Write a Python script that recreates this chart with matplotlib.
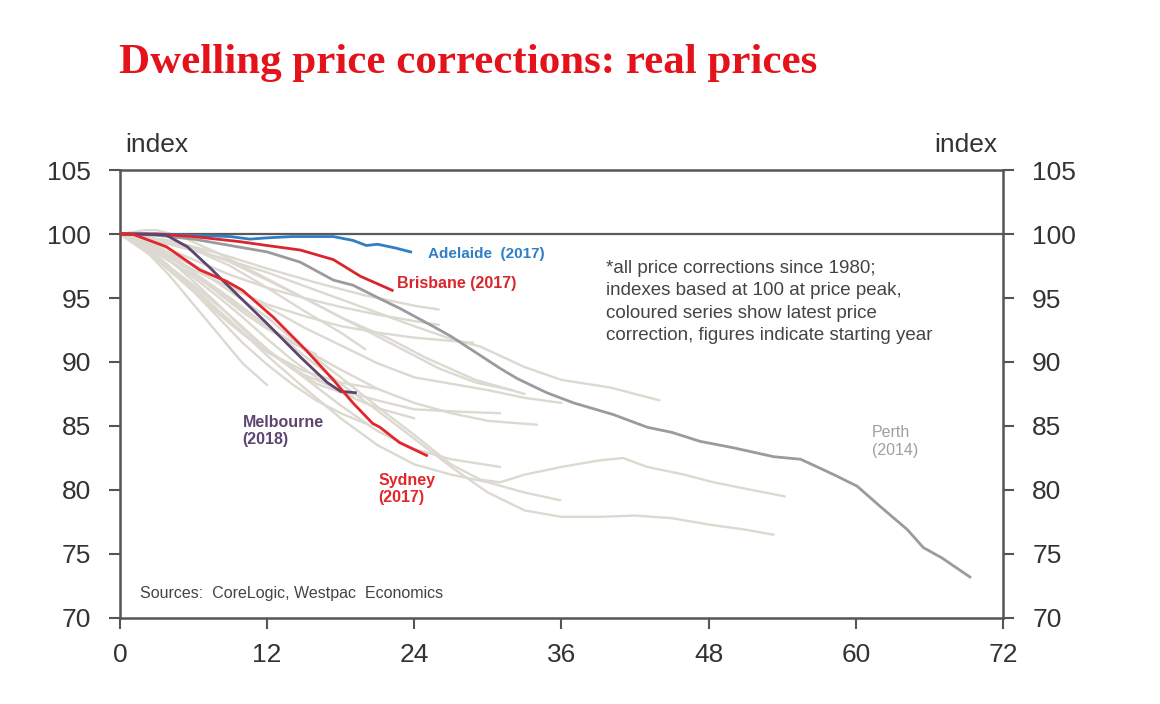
import matplotlib
matplotlib.use("Agg")
import matplotlib.pyplot as plt

plt.rcParams['font.family'] = ['Liberation Sans', 'DejaVu Sans']

# ---- data (months since price peak, real price index) ----
adelaide_x = [0, 3, 6, 9, 10.6, 12, 14, 17.4, 19, 20.1, 21, 22.5, 23.7]
adelaide_y = [100, 100, 99.9, 99.8, 99.6, 99.7, 99.8, 99.8, 99.5, 99.1, 99.2, 98.9, 98.6]

brisbane_x = [0, 3, 6, 9.8, 12, 14.7, 17.4, 19.6, 22.2]
brisbane_y = [100, 100, 99.8, 99.4, 99.1, 98.75, 98.0, 96.7, 95.6]

sydney_x = [0, 1, 3.8, 6.5, 8.7, 10, 12.5, 15.2, 17.4, 19, 20.6, 21.2, 22.8, 25]
sydney_y = [100, 100, 99.0, 97.2, 96.3, 95.6, 93.5, 90.9, 88.6, 86.8, 85.2, 84.9, 83.7, 82.7]

melbourne_x = [0, 2, 3.8, 5.5, 7.3, 9.2, 12, 14.7, 16.9, 18, 19.2]
melbourne_y = [100, 100, 99.9, 99.0, 97.4, 95.6, 93.0, 90.4, 88.4, 87.7, 87.6]

perth_x = [0, 3, 6, 9, 12, 14.7, 17.4, 19, 21.5, 22.8, 25.5, 27, 29.4, 31, 32.4,
           34.8, 37, 40.2, 43, 45, 47.3, 50, 53.3, 55.5, 58.2, 60.1, 62, 64.2,
           65.5, 67, 69.3]
perth_y = [100, 99.9, 99.6, 99.1, 98.6, 97.8, 96.4, 96.0, 94.8, 94.2, 92.8, 92.0,
           90.5, 89.5, 88.7, 87.6, 86.8, 85.9, 84.9, 84.5, 83.8, 83.3, 82.6, 82.4,
           81.2, 80.3, 78.7, 76.9, 75.5, 74.7, 73.2]

# earlier corrections since 1980 (grey)
past_x = [
    [0, 2, 4, 6, 8, 10, 12],
    [0, 3, 6, 9, 12, 15, 18, 21, 24, 27, 30, 33, 35.9],
    [0, 3, 6, 9, 12, 15, 18, 21, 24, 27, 30, 33, 36, 39, 42, 45, 48, 51, 53.3],
    [0, 3, 6, 9, 12, 15, 18, 21, 24, 27, 29.4, 31, 33, 36, 39, 41, 43, 46, 48.4, 51, 54.2],
    [0, 4, 8, 12, 16, 20, 24, 27, 29.4, 33, 36, 40, 44],
    [0, 3, 6, 9, 12, 15, 18, 21, 24, 27, 30, 33, 36],
    [0, 3, 6, 9, 12, 15, 18, 21, 24, 27, 30, 34],
    [0, 3, 6, 9, 12, 15, 18, 21, 24, 27, 31],
    [0, 4, 8, 12, 16, 20, 24, 26],
    [0, 3, 6, 9, 12, 15, 18, 21, 24, 26],
    [0, 3, 6, 9, 12, 15, 18, 21, 24, 28.8],
    [0, 3, 6, 9, 12, 15, 18, 21, 24, 28, 31],
    [0, 2, 4, 6, 8, 10, 12, 14, 16, 18, 20],
    [0, 2, 4, 6, 8, 10, 12, 14, 16, 19],
    [0, 3, 6, 9, 12, 15, 18, 20],
    [0, 2, 4, 6, 8, 10, 12, 14, 16],
    [0, 2, 3, 5, 8, 11, 14, 17, 20, 23, 26, 29, 32],
    [0, 3, 6, 9, 12, 15, 18, 22, 25, 29, 33],
    [0, 2, 4, 6, 8, 10, 12, 14, 16, 18, 21, 24],
    [0, 2, 4, 6, 8, 10, 12, 15, 18, 21],
]
past_y = [
    [100, 98.8, 96.8, 94.5, 92.2, 89.9, 88.2],
    [100, 98.3, 95.8, 93.2, 90.5, 88.0, 85.6, 83.5, 82.0, 81.2, 80.6, 79.8, 79.2],
    [100, 98.8, 97.0, 95.0, 92.8, 90.5, 88.3, 86.2, 84.0, 81.8, 79.8, 78.4, 77.9, 77.9, 78.0, 77.8, 77.3, 76.9, 76.5],
    [100, 99.0, 97.5, 95.5, 93.5, 91.0, 88.8, 86.5, 84.3, 82.0, 80.8, 80.6, 81.2, 81.8, 82.3, 82.5, 81.8, 81.2, 80.6, 80.1, 79.5],
    [100, 99.2, 98.2, 97.0, 95.6, 94.2, 92.8, 91.8, 91.2, 89.6, 88.6, 88.0, 87.0],
    [100, 99.0, 97.6, 96.0, 94.3, 92.7, 91.3, 89.9, 88.8, 88.3, 87.8, 87.2, 86.8],
    [100, 98.5, 96.8, 94.8, 92.8, 91.0, 89.4, 87.9, 86.8, 86.0, 85.4, 85.1],
    [100, 98.2, 96.0, 93.6, 91.0, 88.8, 86.6, 84.6, 83.2, 82.4, 81.8],
    [100, 99.5, 98.5, 97.3, 96.2, 95.2, 94.4, 94.1],
    [100, 99.2, 98.0, 96.8, 95.8, 95.0, 94.3, 93.7, 93.2, 92.9],
    [100, 98.8, 97.2, 95.8, 94.5, 93.6, 92.8, 92.3, 91.9, 91.5],
    [100, 98.0, 95.5, 93.0, 90.8, 89.0, 87.8, 87.0, 86.3, 86.1, 86.0],
    [100, 99.0, 97.5, 95.5, 93.5, 91.5, 89.8, 88.3, 87.0, 86.0, 85.2],
    [100, 99.3, 98.0, 96.3, 94.5, 92.6, 90.9, 89.5, 88.3, 87.3],
    [100, 99.5, 98.8, 97.5, 95.8, 94.0, 92.3, 91.0],
    [100, 99.5, 98.5, 97.0, 95.4, 93.9, 92.6, 91.5, 90.6],
    [100, 100.3, 100.3, 99.8, 98.5, 97.0, 95.5, 94.0, 92.5, 91.0, 89.5, 88.4, 87.8],
    [100, 99.6, 98.9, 97.8, 96.4, 95.0, 93.5, 91.8, 90.3, 88.6, 87.5],
    [100, 99.1, 97.9, 96.6, 95.1, 93.5, 91.8, 90.2, 88.8, 87.6, 86.4, 85.6],
    [100, 98.9, 97.4, 95.6, 93.8, 92.2, 90.8, 89.3, 88.4, 87.9],
]

x_ticks = [0, 12, 24, 36, 48, 60, 72]
y_ticks = [70, 75, 80, 85, 90, 95, 100, 105]

# ---- figure ----
fig = plt.figure(figsize=(11.6, 7.04), dpi=100)
ax = fig.add_axes([0.1034, 0.1222, 0.7613, 0.6363])

grey = '#dcd9d0'
for xs, ys in zip(past_x, past_y):
    ax.plot(xs, ys, color=grey, lw=1.7, solid_capstyle='round', zorder=2)

ax.axhline(100, color='#5a5a5a', lw=1.6, zorder=3)

ax.plot(perth_x, perth_y, color='#9b9b9d', lw=2.0, zorder=4)
ax.plot(adelaide_x, adelaide_y, color='#2f7fc4', lw=2.0, zorder=5)
ax.plot(brisbane_x, brisbane_y, color='#d8262c', lw=2.0, zorder=5)
ax.plot(melbourne_x, melbourne_y, color='#5e4470', lw=2.0, zorder=5)
ax.plot(sydney_x, sydney_y, color='#e3262c', lw=2.0, zorder=6)

ax.set_xlim(0, 72)
ax.set_ylim(70, 105)
ax.set_xticks(x_ticks)
ax.set_yticks(y_ticks)

for s in ax.spines.values():
    s.set_color('#555555')
    s.set_linewidth(1.8)

ax.tick_params(axis='both', which='both', direction='out', length=8, width=1.5,
               color='#555555', labelsize=19, labelcolor='#333333')
ax.tick_params(axis='y', pad=13, right=True, labelright=True)
ax.tick_params(axis='x', pad=10)

# labels
ax.text(25.1, 98.4, 'Adelaide  (2017)', color='#2f7fc4', fontsize=11,
        fontweight='bold', va='center', ha='left')
ax.text(22.6, 96.1, 'Brisbane (2017)', color='#d8262c', fontsize=11.5,
        fontweight='bold', va='center', ha='left')
ax.text(10.0, 84.6, 'Melbourne\n(2018)', color='#5e4470', fontsize=11.5,
        fontweight='bold', va='center', ha='left', linespacing=1.15)
ax.text(21.1, 80.1, 'Sydney\n(2017)', color='#e3262c', fontsize=11.5,
        fontweight='bold', va='center', ha='left', linespacing=1.15)
ax.text(61.3, 83.8, 'Perth\n(2014)', color='#a0a0a0', fontsize=11.5,
        va='center', ha='left', linespacing=1.2)
ax.text(39.6, 98.0,
        '*all price corrections since 1980;\n'
        'indexes based at 100 at price peak,\n'
        'coloured series show latest price\n'
        'correction, figures indicate starting year',
        color='#444444', fontsize=13.5, va='top', ha='left', linespacing=1.42)
ax.text(1.6, 71.9, 'Sources:  CoreLogic, Westpac  Economics', color='#444444',
        fontsize=11.5, va='center', ha='left')

fig.text(0.108, 0.794, 'index', fontsize=19, color='#333333', va='center', ha='left')
fig.text(0.860, 0.794, 'index', fontsize=19, color='#333333', va='center', ha='right')

fig.text(0.103, 0.910, 'Dwelling price corrections: real prices',
         family=['Liberation Serif', 'DejaVu Serif'], fontweight='bold',
         fontsize=31, color='#e4131b', va='center', ha='left')

fig.savefig('out.png', dpi=100, facecolor='white')
